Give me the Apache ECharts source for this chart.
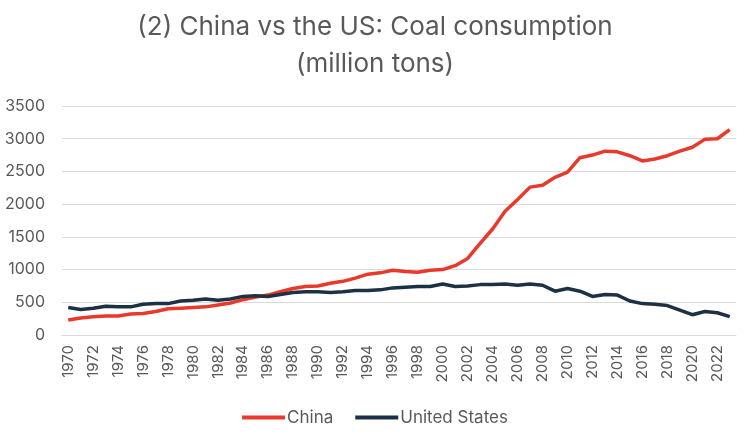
<!DOCTYPE html>
<html>
<head>
<meta charset="utf-8">
<script src="https://cdn.jsdelivr.net/npm/echarts@6/dist/echarts.min.js"></script>
<style>html,body{margin:0;padding:0;background:#fff}#c{width:750px;height:441px}</style>
</head>
<body>
<div id="c"></div>
<script>
const years = [];
for (let y = 1970; y <= 2023; y++) years.push(String(y));
const china = [230,260,280,290,290,320,330,360,400,410,420,430,460,490,540,580,610,660,710,740,750,790,820,870,930,950,990,970,960,990,1000,1060,1170,1400,1620,1890,2070,2260,2290,2410,2490,2710,2750,2810,2800,2740,2660,2690,2740,2810,2870,2990,3000,3140];
const us = [420,390,410,440,430,430,470,480,480,520,530,550,530,550,590,600,590,620,650,660,660,650,660,680,680,690,720,730,740,740,780,740,750,770,770,780,760,780,760,670,710,670,590,620,610,520,480,470,450,380,310,360,340,280];
const titleLines = ['(2) China vs the US: Coal consumption', '(million tons)'];
const seriesNames = ['China', 'United States'];
const FONT = 'Inter, "Noto Sans", sans-serif';
const chart = echarts.init(document.getElementById('c'));
chart.setOption({
  animation: false,
  backgroundColor: '#fff',
  title: {
    text: titleLines.join('\n'),
    left: 'center', top: 4,
    textStyle: { fontFamily: FONT, fontSize: 26, fontWeight: 'normal', color: '#595959', lineHeight: 37 }
  },
  legend: {
    bottom: 10, left: 'center',
    itemWidth: 43, itemHeight: 4, itemGap: 22,
    icon: 'rect',
    textStyle: { fontFamily: FONT, fontSize: 17, color: '#595959', padding: [0,0,0,-3] },
    data: seriesNames
  },
  grid: { left: 62, right: 14, top: 106, bottom: 106, containLabel: false },
  xAxis: {
    type: 'category', data: years, boundaryGap: true,
    axisLine: { show: true, lineStyle: { color: '#d9d9d9', width: 1 } },
    axisTick: { show: false },
    axisLabel: { interval: 1, rotate: 90, fontFamily: FONT, fontSize: 15, color: '#595959', margin: 10 }
  },
  yAxis: {
    type: 'value', min: 0, max: 3500, interval: 500,
    axisLine: { show: false }, axisTick: { show: false },
    axisLabel: { fontFamily: FONT, fontSize: 16, color: '#595959', margin: 17, formatter: v => String(v) },
    splitLine: { lineStyle: { color: '#d9d9d9', width: 1 } }
  },
  series: [
    { name: seriesNames[0], type: 'line', data: china, symbol: 'none', lineStyle: { color: '#E8392B', width: 3.5 }, itemStyle: { color: '#E8392B' } },
    { name: seriesNames[1], type: 'line', data: us, symbol: 'none', lineStyle: { color: '#1C3144', width: 3.5 }, itemStyle: { color: '#1C3144' } }
  ]
});
</script>
</body>
</html>
